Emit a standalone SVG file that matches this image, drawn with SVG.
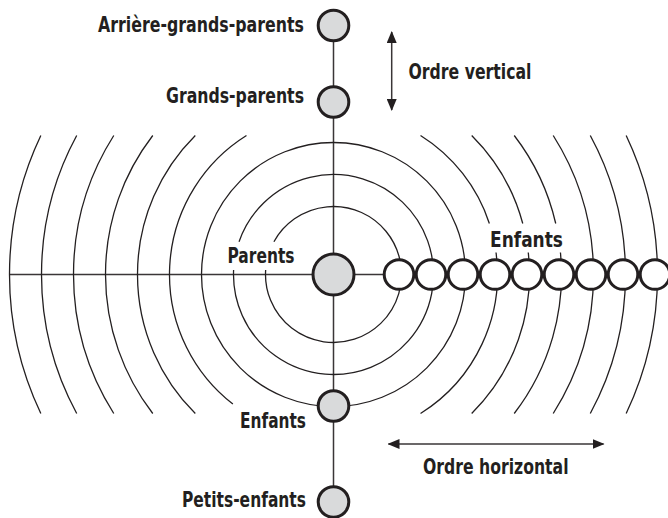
<svg xmlns="http://www.w3.org/2000/svg" width="668" height="518" viewBox="0 0 668 518">
<style>
.ln{fill:none;stroke:#231f20;stroke-width:1.3}
.ax{fill:none;stroke:#3a3637;stroke-width:1.5}
.gn{fill:#d9dadb;stroke:#231f20;stroke-width:3}
.wn{fill:#ffffff;stroke:#231f20;stroke-width:3}
.lb{font-family:"Liberation Sans Narrow","DejaVu Sans Condensed","Liberation Sans",Arial,sans-serif;font-weight:bold;font-size:22px;fill:#231f20}
.ar{fill:none;stroke:#3a3637;stroke-width:1.5}
</style>
<defs>
<marker id="ah" viewBox="0 0 12 10" refX="11" refY="5" markerWidth="12" markerHeight="10" markerUnits="userSpaceOnUse" orient="auto-start-reverse">
<path d="M0,0 L12,5 L0,10 Z" fill="#231f20"/>
</marker>
</defs>
<rect width="668" height="518" fill="#ffffff"/>
<g id="connectors">
<line class="ax" x1="9" y1="274.5" x2="668" y2="274.5"/>
<line class="ax" x1="333.5" y1="25.5" x2="333.5" y2="502"/>
<path class="ln" d="M265.65,270 A68,68 0 1 0 273.93,241.7"/>
<path class="ln" d="M233.6,270 A100,100 0 1 0 239.03,241.7"/>
<circle class="ln" cx="333.5" cy="274.5" r="132"/>
<path class="ln" d="M246.47,135.5 A164,164 0 0 0 232.87,404"/>
<path class="ln" d="M195.31,135.5 A196,196 0 0 0 195.31,413.5"/>
<path class="ln" d="M152.77,135.5 A228,228 0 0 0 152.77,413.5"/>
<path class="ln" d="M113.78,135.5 A260,260 0 0 0 113.78,413.5"/>
<path class="ln" d="M76.71,135.5 A292,292 0 0 0 76.71,413.5"/>
<path class="ln" d="M40.83,135.5 A324,324 0 0 0 40.83,413.5"/>
<path class="ln" d="M420.53,135.5 A164,164 0 0 1 489.37,223.5 M496.02,252.5 A164,164 0 0 1 420.53,413.5"/>
<path class="ln" d="M471.69,135.5 A196,196 0 0 1 522.75,223.5 M528.26,252.5 A196,196 0 0 1 471.69,413.5"/>
<path class="ln" d="M514.23,135.5 A228,228 0 0 1 555.72,223.5 M560.44,252.5 A228,228 0 0 1 514.23,413.5"/>
<path class="ln" d="M553.22,135.5 A260,260 0 0 1 553.22,413.5"/>
<path class="ln" d="M590.29,135.5 A292,292 0 0 1 590.29,413.5"/>
<path class="ln" d="M626.17,135.5 A324,324 0 0 1 626.17,413.5"/>
<line class="ar" x1="391.7" y1="32" x2="391.7" y2="110" marker-start="url(#ah)" marker-end="url(#ah)"/>
<line class="ar" x1="388.5" y1="444" x2="603.5" y2="444" marker-start="url(#ah)" marker-end="url(#ah)"/>
</g>
<g id="arriere-grands-parents">
<circle class="gn" cx="333.5" cy="25.5" r="15.3"/>
<text class="lb" x="98" y="31.7" textLength="206" lengthAdjust="spacingAndGlyphs">Arrière-grands-parents</text>
</g>
<g id="grands-parents">
<circle class="gn" cx="333.5" cy="102" r="15.3"/>
<text class="lb" x="166" y="103" textLength="138" lengthAdjust="spacingAndGlyphs">Grands-parents</text>
</g>
<g id="parents">
<circle class="gn" cx="333.5" cy="274.5" r="20.5"/>
<text class="lb" x="227.5" y="263.3" textLength="67" lengthAdjust="spacingAndGlyphs">Parents</text>
</g>
<g id="enfants-vertical">
<circle class="gn" cx="333.5" cy="406" r="15.3"/>
<text class="lb" x="240" y="427.5" textLength="66" lengthAdjust="spacingAndGlyphs">Enfants</text>
</g>
<g id="petits-enfants">
<circle class="gn" cx="333.5" cy="502" r="15.3"/>
<text class="lb" x="182" y="506.5" textLength="124" lengthAdjust="spacingAndGlyphs">Petits-enfants</text>
</g>
<g id="enfants-horizontal">
<circle class="wn" cx="399" cy="274.5" r="14.8"/>
<circle class="wn" cx="431" cy="274.5" r="14.8"/>
<circle class="wn" cx="463" cy="274.5" r="14.8"/>
<circle class="wn" cx="495" cy="274.5" r="14.8"/>
<circle class="wn" cx="527" cy="274.5" r="14.8"/>
<circle class="wn" cx="559" cy="274.5" r="14.8"/>
<circle class="wn" cx="591" cy="274.5" r="14.8"/>
<circle class="wn" cx="623" cy="274.5" r="14.8"/>
<circle class="wn" cx="655" cy="274.5" r="14.8"/>
<text class="lb" x="490" y="246.7" textLength="73" lengthAdjust="spacingAndGlyphs">Enfants</text>
</g>
<g id="ordre-vertical">
<text class="lb" x="408.5" y="79" textLength="123" lengthAdjust="spacingAndGlyphs">Ordre vertical</text>
</g>
<g id="ordre-horizontal">
<text class="lb" x="423" y="474" textLength="145.5" lengthAdjust="spacingAndGlyphs">Ordre horizontal</text>
</g>
</svg>
